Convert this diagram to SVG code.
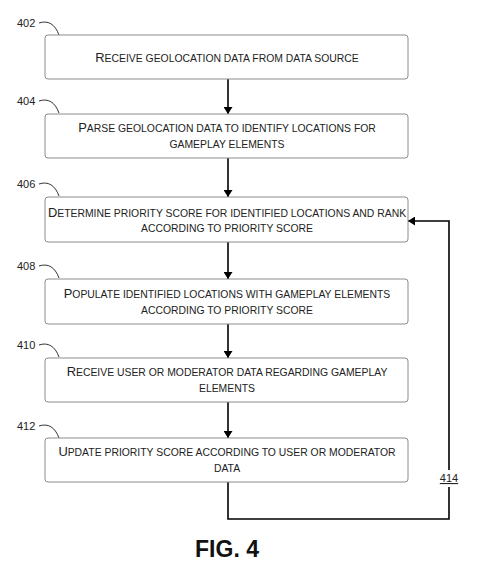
<svg xmlns="http://www.w3.org/2000/svg" width="490" height="576" viewBox="0 0 490 576">
<style>
.box{fill:#fff;stroke:#8c8c8c;stroke-width:1}
.t{font-family:"Liberation Sans",Arial,sans-serif;font-size:10.4px;fill:#222;text-anchor:middle}
.c{font-size:12.9px}
.ref{font-family:"Liberation Sans",Arial,sans-serif;font-size:11px;fill:#222}
.lead{fill:none;stroke:#333;stroke-width:1}
.conn{fill:none;stroke:#000;stroke-width:1.6}
</style>
<defs>
<marker id="ah2" viewBox="0 0 10 10" refX="10" refY="5" markerWidth="7" markerHeight="9" orient="auto" markerUnits="userSpaceOnUse" preserveAspectRatio="none">
<path d="M0,0 L10,5 L0,10 z" fill="#000"/>
</marker>
</defs>
<rect width="490" height="576" fill="#fff"/>
<g id="connectors">
<line class="conn" x1="228" y1="79" x2="228" y2="114" marker-end="url(#ah2)"/>
<line class="conn" x1="228" y1="158" x2="228" y2="197" marker-end="url(#ah2)"/>
<line class="conn" x1="228" y1="242" x2="228" y2="279" marker-end="url(#ah2)"/>
<line class="conn" x1="228" y1="324" x2="228" y2="358" marker-end="url(#ah2)"/>
<line class="conn" x1="228" y1="402" x2="228" y2="438" marker-end="url(#ah2)"/>
<polyline class="conn" points="228,482 228,519 449,519 449,487"/>
<polyline class="conn" points="449,470 449,221 408,221" marker-end="url(#ah2)"/>
<text class="ref" x="449" y="482" text-anchor="middle" text-decoration="underline">414</text>
</g>
<g id="n402">
<text class="ref" x="17" y="27">402</text>
<path class="lead" d="M39,23 C48,20 55,24 59,35"/>
<rect class="box" x="45" y="35" width="363" height="44" rx="3"/>
<text class="t" x="227" y="62"><tspan class="c">R</tspan>ECEIVE GEOLOCATION DATA FROM DATA SOURCE</text>
</g>
<g id="n404">
<text class="ref" x="17" y="105">404</text>
<path class="lead" d="M39,101 C48,98 55,102 59,113"/>
<rect class="box" x="45" y="114" width="363" height="44" rx="3"/>
<text class="t" x="227" y="132"><tspan class="c">P</tspan>ARSE GEOLOCATION DATA TO IDENTIFY LOCATIONS FOR</text>
<text class="t" x="227" y="148">GAMEPLAY ELEMENTS</text>
</g>
<g id="n406">
<text class="ref" x="17" y="188">406</text>
<path class="lead" d="M39,184 C48,181 55,185 59,196"/>
<rect class="box" x="45" y="197" width="363" height="45" rx="3"/>
<text class="t" x="227" y="217"><tspan class="c">D</tspan>ETERMINE PRIORITY SCORE FOR IDENTIFIED LOCATIONS AND RANK</text>
<text class="t" x="227" y="232">ACCORDING TO PRIORITY SCORE</text>
</g>
<g id="n408">
<text class="ref" x="17" y="270">408</text>
<path class="lead" d="M39,266 C48,263 55,267 59,278"/>
<rect class="box" x="45" y="279" width="363" height="45" rx="3"/>
<text class="t" x="227" y="298"><tspan class="c">P</tspan>OPULATE IDENTIFIED LOCATIONS WITH GAMEPLAY ELEMENTS</text>
<text class="t" x="227" y="314">ACCORDING TO PRIORITY SCORE</text>
</g>
<g id="n410">
<text class="ref" x="17" y="349">410</text>
<path class="lead" d="M39,345 C48,342 55,346 59,357"/>
<rect class="box" x="45" y="358" width="363" height="44" rx="3"/>
<text class="t" x="227" y="376"><tspan class="c">R</tspan>ECEIVE USER OR MODERATOR DATA REGARDING GAMEPLAY</text>
<text class="t" x="227" y="392">ELEMENTS</text>
</g>
<g id="n412">
<text class="ref" x="17" y="430">412</text>
<path class="lead" d="M39,426 C48,423 55,427 59,438"/>
<rect class="box" x="45" y="438" width="363" height="44" rx="3"/>
<text class="t" x="227" y="456"><tspan class="c">U</tspan>PDATE PRIORITY SCORE ACCORDING TO USER OR MODERATOR</text>
<text class="t" x="227" y="472">DATA</text>
</g>
<text x="227" y="557" font-family="Liberation Sans,Arial,sans-serif" font-size="23" font-weight="bold" text-anchor="middle" fill="#111">FIG. 4</text>
</svg>
